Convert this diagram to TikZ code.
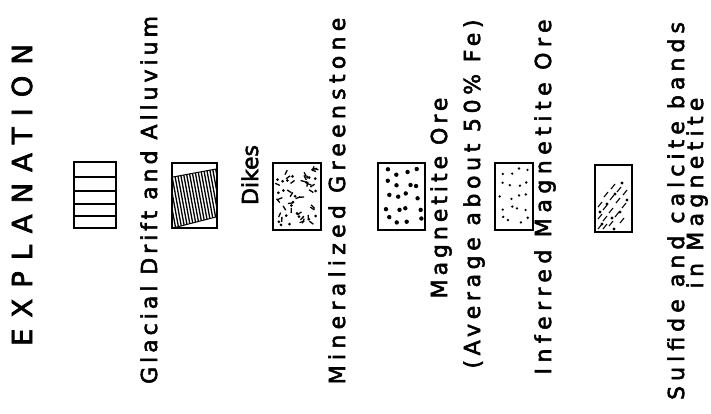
\documentclass[tikz,border=0pt]{standalone}
\usepackage{fontspec}
\newfontfamily\lettering[FakeBold=2.5]{DejaVu Sans}
\tikzset{
  legbox/.style={draw, line width=1.7pt},
  lbl/.style={rotate=90, anchor=base, inner sep=0pt, font=\lettering\fontsize{22}{26}\selectfont},
  spot/.style={fill=black},
}
\newcommand{\spaced}[2]{\addfontfeature{LetterSpace=#1}#2}
\begin{document}
\begin{tikzpicture}[x=1pt, y=-1pt]
  \useasboundingbox (0,0) rectangle (711,414);
  % title
  \node[lbl, font=\lettering\fontsize{27.5}{30}\selectfont] (title) at (32,195) {\spaced{40}{EXPLANATION}};
  % glacial drift
  \draw[legbox] (74,162) rectangle (116,228);
  \foreach \yy in {177,191,204,216} \draw[line width=1.1pt] (74,\yy) -- (116,\yy);
  \node[lbl] (drift) at (157,200) {\spaced{18}{Glacial Drift and Alluvium}};
  % dikes
  \draw[legbox] (172,163) rectangle (217,228);
  \begin{scope}
    \clip (173,177) -- (216,169) -- (216,217) -- (173,228) -- cycle;
    \foreach \k in {0,...,22} \draw[line width=1.3pt] ({160+3*\k},160) -- ++(13,70);
  \end{scope}
  \draw[line width=1pt] (173,177) -- (216,169) (173,228) -- (216,217);
  \node[lbl] (dikes) at (258,175) {\spaced{0}{Dikes}};
  % mineralized greenstone
  \draw[legbox] (273,163) rectangle (321,230);
  \pgfmathsetseed{12}
  \foreach \i in {1,...,34} {
    \pgfmathsetmacro\px{278+38*rnd}
    \pgfmathsetmacro\py{168+57*rnd}
    \pgfmathsetmacro\pa{360*rnd}
    \draw[line width=1.3pt] (\px,\py) -- ++(\pa:5);
  }
  \foreach \i in {1,...,22} {
    \pgfmathsetmacro\px{277+40*rnd}
    \pgfmathsetmacro\py{167+59*rnd}
    \fill[spot] (\px,\py) circle (1.5);
  }
  \node[lbl] (greenstone) at (345,201) {\spaced{24}{Mineralized Greenstone}};
  % magnetite ore
  \draw[legbox] (378,163) rectangle (425,230);
  \foreach \c in {0,...,3} \foreach \r in {0,...,4} {
    \pgfmathsetmacro\px{384+10.5*\c+6*rnd}
    \pgfmathsetmacro\py{168+12*\r+7*rnd}
    \fill[spot] (\px,\py) circle (2.2);
  }
  \node[lbl] (oremag) at (447,198) {\spaced{18}{Magnetite Ore}};
  \node[lbl] (oreavg) at (480,194) {\spaced{21}{(Average about 50\% Fe)}};
  % inferred magnetite ore
  \draw[legbox] (495,163) rectangle (533,230);
  \foreach \c in {0,...,3} \foreach \r in {0,...,4} {
    \pgfmathsetmacro\px{499+8.5*\c+5*rnd}
    \pgfmathsetmacro\py{168+12*\r+7*rnd}
    \fill[spot] (\px,\py) circle (1.3);
  }
  \node[lbl] (inferred) at (551,197) {\spaced{25}{Inferred Magnetite Ore}};
  % sulfide bands
  \draw[legbox] (595,165) rectangle (632,232);
  \foreach \a/\b in {598/229,603/229,598/219,603/221,609/226,598/207,603/210,609/213,615/217,620/223,604/197,610/200,616/203,622/208,611/189,617/192,623/195} {
    \draw[line width=1.1pt] (\a,\b) -- ++(4,-5);
  }
  \foreach \a/\b in {600/212,607/204,615/194,622/183,602/224,612/218,620/212,627/200,614/229} {
    \fill[spot] (\a,\b) circle (1.7);
  }
  \node[lbl] (sulfide) at (684,211) {\spaced{23}{Sulfide and calcite bands}};
  \node[lbl] (sulfideb) at (703,193) {\spaced{24}{in Magnetite}};
\end{tikzpicture}
\end{document}
